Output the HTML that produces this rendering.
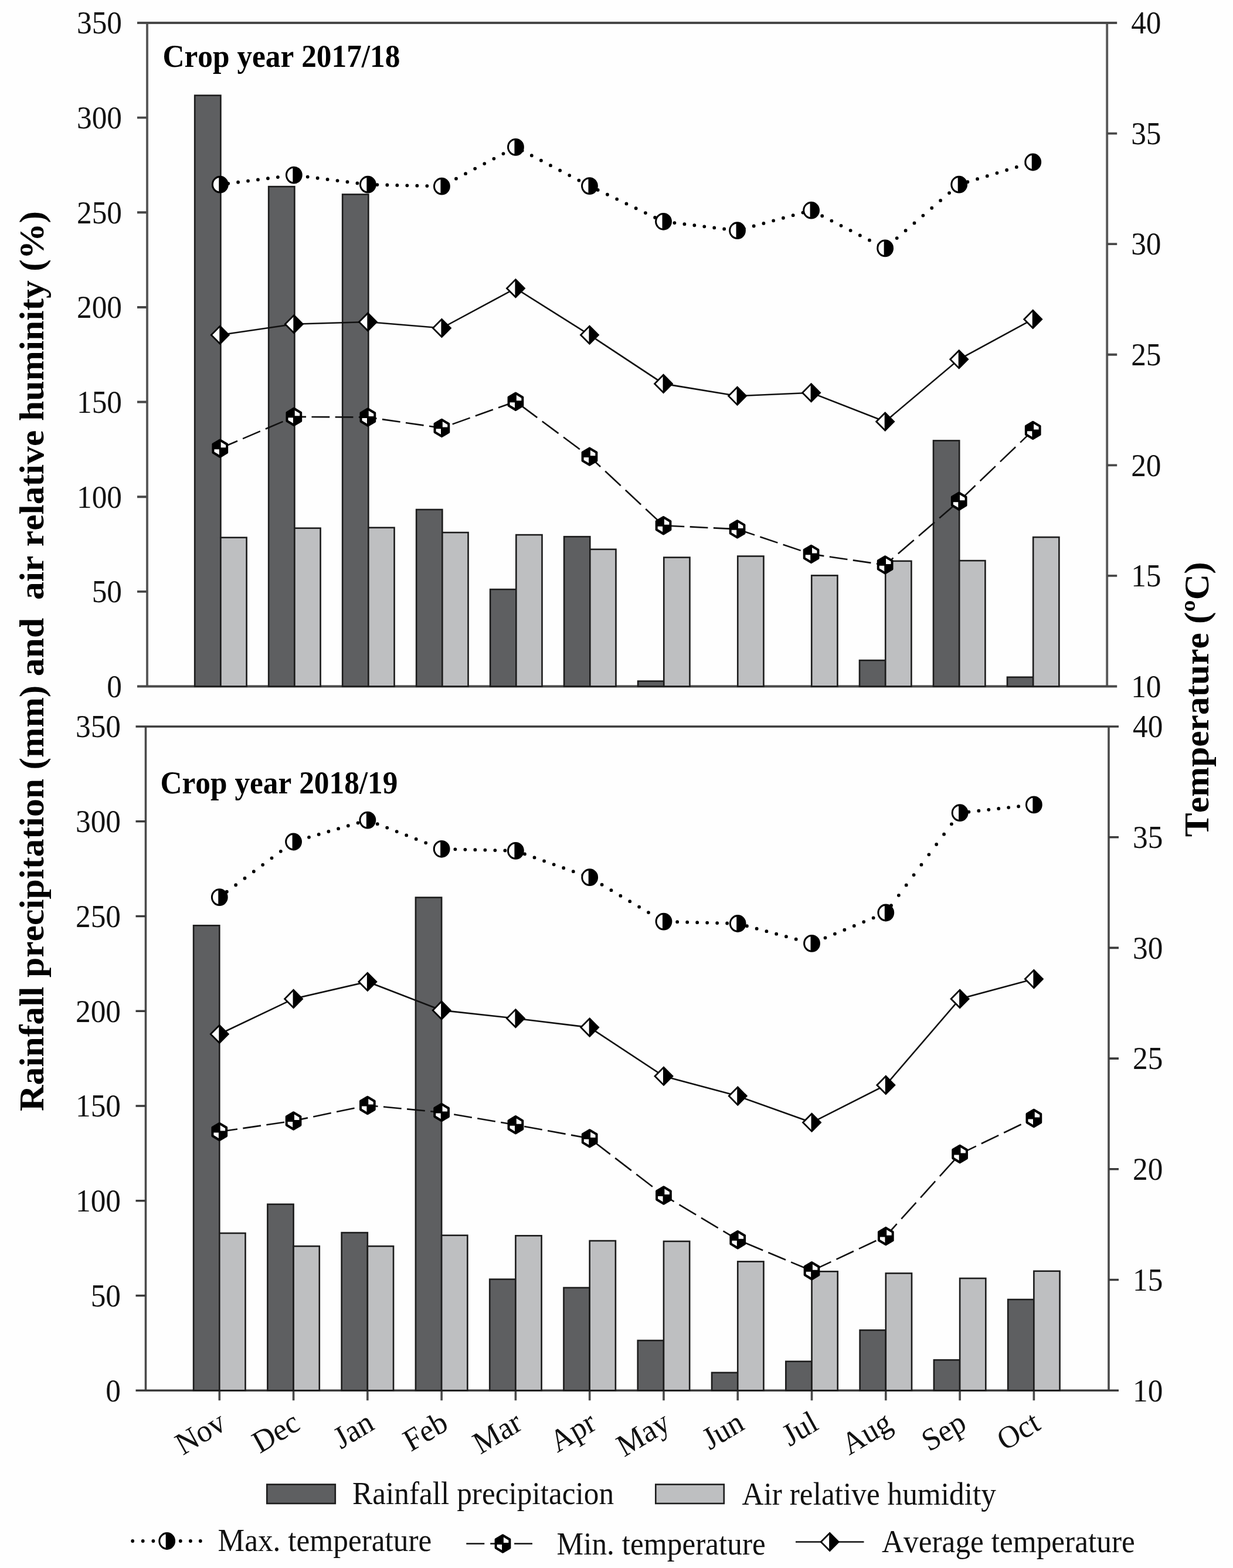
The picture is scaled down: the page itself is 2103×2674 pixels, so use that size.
<!DOCTYPE html>
<html lang="en"><head><meta charset="utf-8"><title>Rainfall, humidity and temperature by crop year</title>
<style>html,body{margin:0;padding:0;background:#fefefe}body{width:2103px;height:2674px;overflow:hidden}svg{display:block}text{font-kerning:none}</style></head>
<body>
<svg width="2103" height="2674" viewBox="0 0 2103 2674" font-family="'Liberation Serif', 'Times New Roman', serif">
<rect width="2103" height="2674" fill="#fefefe"/>
<path d="M251 39V1170.5M1888.2 39V1170.5" stroke="#585858" stroke-width="3.9" fill="none"/>
<path d="M234 39H1905.2M234 1170.5H1905.2M234 1008.86H251M234 847.21H251M234 685.57H251M234 523.93H251M234 362.29H251M234 200.64H251M1888.2 981.92H1905.2M1888.2 793.33H1905.2M1888.2 604.75H1905.2M1888.2 416.17H1905.2M1888.2 227.58H1905.2" stroke="#484848" stroke-width="3.9" fill="none"/>
<rect x="332.2" y="162.7" width="44.2" height="1007.8" fill="#5e5f61" stroke="#1c1c1c" stroke-width="2.6"/>
<rect x="376.4" y="916.7" width="44.2" height="253.8" fill="#bebfc1" stroke="#1c1c1c" stroke-width="2.6"/>
<rect x="458.18" y="318.2" width="44.2" height="852.3" fill="#5e5f61" stroke="#1c1c1c" stroke-width="2.6"/>
<rect x="502.38" y="900.7" width="44.2" height="269.8" fill="#bebfc1" stroke="#1c1c1c" stroke-width="2.6"/>
<rect x="584.16" y="331.5" width="44.2" height="839" fill="#5e5f61" stroke="#1c1c1c" stroke-width="2.6"/>
<rect x="628.36" y="899.8" width="44.2" height="270.7" fill="#bebfc1" stroke="#1c1c1c" stroke-width="2.6"/>
<rect x="710.14" y="869" width="44.2" height="301.5" fill="#5e5f61" stroke="#1c1c1c" stroke-width="2.6"/>
<rect x="754.34" y="908.1" width="44.2" height="262.4" fill="#bebfc1" stroke="#1c1c1c" stroke-width="2.6"/>
<rect x="836.12" y="1005.1" width="44.2" height="165.4" fill="#5e5f61" stroke="#1c1c1c" stroke-width="2.6"/>
<rect x="880.32" y="912.1" width="44.2" height="258.4" fill="#bebfc1" stroke="#1c1c1c" stroke-width="2.6"/>
<rect x="962.1" y="915.2" width="44.2" height="255.3" fill="#5e5f61" stroke="#1c1c1c" stroke-width="2.6"/>
<rect x="1006.3" y="936.8" width="44.2" height="233.7" fill="#bebfc1" stroke="#1c1c1c" stroke-width="2.6"/>
<rect x="1088.08" y="1161.6" width="44.2" height="8.9" fill="#5e5f61" stroke="#1c1c1c" stroke-width="2.6"/>
<rect x="1132.28" y="950.6" width="44.2" height="219.9" fill="#bebfc1" stroke="#1c1c1c" stroke-width="2.6"/>
<rect x="1258.26" y="948.5" width="44.2" height="222" fill="#bebfc1" stroke="#1c1c1c" stroke-width="2.6"/>
<rect x="1384.24" y="981.4" width="44.2" height="189.1" fill="#bebfc1" stroke="#1c1c1c" stroke-width="2.6"/>
<rect x="1466.02" y="1126.1" width="44.2" height="44.4" fill="#5e5f61" stroke="#1c1c1c" stroke-width="2.6"/>
<rect x="1510.22" y="956.8" width="44.2" height="213.7" fill="#bebfc1" stroke="#1c1c1c" stroke-width="2.6"/>
<rect x="1592" y="751.4" width="44.2" height="419.1" fill="#5e5f61" stroke="#1c1c1c" stroke-width="2.6"/>
<rect x="1636.2" y="956.1" width="44.2" height="214.4" fill="#bebfc1" stroke="#1c1c1c" stroke-width="2.6"/>
<rect x="1717.98" y="1154.8" width="44.2" height="15.7" fill="#5e5f61" stroke="#1c1c1c" stroke-width="2.6"/>
<rect x="1762.18" y="916.1" width="44.2" height="254.4" fill="#bebfc1" stroke="#1c1c1c" stroke-width="2.6"/>
<g font-size="51.35" fill="#111">
<text transform="translate(208 1188.8) scale(1 1.055)" text-anchor="end">0</text>
<text transform="translate(208 1027.16) scale(1 1.055)" text-anchor="end">50</text>
<text transform="translate(208 865.51) scale(1 1.055)" text-anchor="end">100</text>
<text transform="translate(208 703.87) scale(1 1.055)" text-anchor="end">150</text>
<text transform="translate(208 542.23) scale(1 1.055)" text-anchor="end">200</text>
<text transform="translate(208 380.59) scale(1 1.055)" text-anchor="end">250</text>
<text transform="translate(208 218.94) scale(1 1.055)" text-anchor="end">300</text>
<text transform="translate(208 57.3) scale(1 1.055)" text-anchor="end">350</text>
<text transform="translate(1929.2 1188.8) scale(1 1.055)">10</text>
<text transform="translate(1929.2 1000.22) scale(1 1.055)">15</text>
<text transform="translate(1929.2 811.63) scale(1 1.055)">20</text>
<text transform="translate(1929.2 623.05) scale(1 1.055)">25</text>
<text transform="translate(1929.2 434.47) scale(1 1.055)">30</text>
<text transform="translate(1929.2 245.88) scale(1 1.055)">35</text>
<text transform="translate(1929.2 57.3) scale(1 1.055)">40</text>
<text transform="translate(277.5 114) scale(1 1.055)" font-weight="bold" fill="#000">Crop year 2017/18</text>
</g>
<path d="M389.15 312.93h0.01M406.1 310.77h0.01M423.04 308.6h0.01M439.98 306.44h0.01M456.93 304.27h0.01M473.87 302.11h0.01M490.81 299.94h0.01M507.76 299.42h0.01M524.7 301.58h0.01M541.65 303.75h0.01M558.59 305.91h0.01M575.53 308.08h0.01M592.48 310.24h0.01M609.42 312.41h0.01M626.36 314.57h0.01M643.36 315.08h0.01M660.36 315.48h0.01M677.35 315.89h0.01M694.35 316.29h0.01M711.35 316.7h0.01M728.35 317.1h0.01M745.35 317.51h0.01M761.87 313.22h0.01M777.97 304.69h0.01M794.07 296.16h0.01M810.17 287.62h0.01M826.27 279.09h0.01M842.37 270.56h0.01M858.47 262.03h0.01M874.57 253.49h0.01M890.67 256.79h0.01M906.79 265.25h0.01M922.9 273.72h0.01M939.02 282.18h0.01M955.13 290.64h0.01M971.24 299.11h0.01M987.36 307.57h0.01M1003.47 316.03h0.01M1019.7 323.94h0.01M1035.95 331.76h0.01M1052.19 339.59h0.01M1068.44 347.41h0.01M1084.68 355.23h0.01M1100.93 363.06h0.01M1117.18 370.88h0.01M1133.5 378.04h0.01M1150.45 380.11h0.01M1167.4 382.18h0.01M1184.35 384.25h0.01M1201.3 386.32h0.01M1218.25 388.39h0.01M1235.19 390.46h0.01M1252.14 392.54h0.01M1268.95 390.09h0.01M1285.7 385.5h0.01M1302.44 380.92h0.01M1319.19 376.34h0.01M1335.93 371.75h0.01M1352.68 367.17h0.01M1369.42 362.59h0.01M1386.08 359.96h0.01M1402.23 368.25h0.01M1418.38 376.54h0.01M1434.53 384.83h0.01M1450.68 393.12h0.01M1466.83 401.41h0.01M1482.98 409.7h0.01M1499.13 418h0.01M1514.84 418.93h0.01M1529.72 406.1h0.01M1544.61 393.26h0.01M1559.49 380.42h0.01M1574.37 367.59h0.01M1589.26 354.75h0.01M1604.14 341.92h0.01M1619.02 329.08h0.01M1633.91 316.25h0.01M1650.38 310.25h0.01M1667.07 305.19h0.01M1683.76 300.13h0.01M1700.45 295.08h0.01M1717.14 290.02h0.01M1733.82 284.96h0.01M1750.51 279.9h0.01" fill="none" stroke="#000" stroke-width="5.8" stroke-linecap="round"/>
<path d="M375.3 764.7L405.01 752M414.07 748.12L443.78 735.41M452.85 731.54L482.56 718.83M491.62 714.96L501.34 710.8L522.06 710.92M531.46 710.97L562.26 711.14M571.66 711.19L602.46 711.36M611.86 711.41L627.38 711.5L642.6 713.72M651.96 715.09L682.62 719.56M691.98 720.93L722.65 725.41M732.01 726.77L753.42 729.9L762.48 726.65M771.64 723.37L801.66 712.6M810.82 709.31L840.84 698.55M850 695.26L879.46 684.7L879.98 685.09M888.47 691.41L916.27 712.12M924.75 718.44L952.55 739.16M961.04 745.48L988.84 766.19M997.33 772.51L1005.5 778.6L1024.17 796.02M1032.24 803.55L1058.68 828.22M1066.75 835.75L1093.2 860.43M1101.27 867.96L1127.71 892.63M1136.48 896.44L1167.26 897.96M1176.66 898.42L1207.44 899.93M1216.84 900.4L1247.62 901.91M1257.02 902.37L1257.58 902.4L1287.14 912.37M1296.33 915.47L1326.43 925.62M1335.62 928.72L1365.73 938.87M1374.92 941.97L1383.62 944.9L1405.42 948.1M1414.78 949.47L1445.45 953.97M1454.8 955.35L1485.47 959.85M1494.83 961.22L1509.66 963.4L1523.58 951.39M1531.81 944.29L1558.78 921.04M1567.01 913.94L1593.97 890.69M1602.2 883.59L1629.17 860.33M1637.35 853.12L1663.61 827.95M1671.62 820.27L1697.87 795.11M1705.89 787.43L1732.14 762.27M1740.15 754.59L1761.74 733.9" fill="none" stroke="#111" stroke-width="2.6"/>
<polyline points="375.3,571.2 501.34,552.7 627.38,549 753.42,559.5 879.46,491.7 1005.5,571.2 1131.54,654.4 1257.58,675.3 1383.62,669.7 1509.66,719 1635.7,612.8 1761.74,544.4" fill="none" stroke="#111" stroke-width="2.6"/>
<g transform="translate(375.3 314.7) scale(1 1.035)"><circle cx="0" cy="0" r="12.9" fill="#fff"/><path d="M-2 -12.74A12.9 12.9 0 1 1 -2 12.74Z" fill="#000"/><circle cx="0" cy="0" r="12.9" fill="none" stroke="#000" stroke-width="3"/></g>
<g transform="translate(501.34 298.6) scale(1 1.035)"><circle cx="0" cy="0" r="12.9" fill="#fff"/><path d="M-2 -12.74A12.9 12.9 0 1 1 -2 12.74Z" fill="#000"/><circle cx="0" cy="0" r="12.9" fill="none" stroke="#000" stroke-width="3"/></g>
<g transform="translate(627.38 314.7) scale(1 1.035)"><circle cx="0" cy="0" r="12.9" fill="#fff"/><path d="M-2 -12.74A12.9 12.9 0 1 1 -2 12.74Z" fill="#000"/><circle cx="0" cy="0" r="12.9" fill="none" stroke="#000" stroke-width="3"/></g>
<g transform="translate(753.42 317.7) scale(1 1.035)"><circle cx="0" cy="0" r="12.9" fill="#fff"/><path d="M-2 -12.74A12.9 12.9 0 1 1 -2 12.74Z" fill="#000"/><circle cx="0" cy="0" r="12.9" fill="none" stroke="#000" stroke-width="3"/></g>
<g transform="translate(879.46 250.9) scale(1 1.035)"><circle cx="0" cy="0" r="12.9" fill="#fff"/><path d="M-2 -12.74A12.9 12.9 0 1 1 -2 12.74Z" fill="#000"/><circle cx="0" cy="0" r="12.9" fill="none" stroke="#000" stroke-width="3"/></g>
<g transform="translate(1005.5 317.1) scale(1 1.035)"><circle cx="0" cy="0" r="12.9" fill="#fff"/><path d="M-2 -12.74A12.9 12.9 0 1 1 -2 12.74Z" fill="#000"/><circle cx="0" cy="0" r="12.9" fill="none" stroke="#000" stroke-width="3"/></g>
<g transform="translate(1131.54 377.8) scale(1 1.035)"><circle cx="0" cy="0" r="12.9" fill="#fff"/><path d="M-2 -12.74A12.9 12.9 0 1 1 -2 12.74Z" fill="#000"/><circle cx="0" cy="0" r="12.9" fill="none" stroke="#000" stroke-width="3"/></g>
<g transform="translate(1257.58 393.2) scale(1 1.035)"><circle cx="0" cy="0" r="12.9" fill="#fff"/><path d="M-2 -12.74A12.9 12.9 0 1 1 -2 12.74Z" fill="#000"/><circle cx="0" cy="0" r="12.9" fill="none" stroke="#000" stroke-width="3"/></g>
<g transform="translate(1383.62 358.7) scale(1 1.035)"><circle cx="0" cy="0" r="12.9" fill="#fff"/><path d="M-2 -12.74A12.9 12.9 0 1 1 -2 12.74Z" fill="#000"/><circle cx="0" cy="0" r="12.9" fill="none" stroke="#000" stroke-width="3"/></g>
<g transform="translate(1509.66 423.4) scale(1 1.035)"><circle cx="0" cy="0" r="12.9" fill="#fff"/><path d="M-2 -12.74A12.9 12.9 0 1 1 -2 12.74Z" fill="#000"/><circle cx="0" cy="0" r="12.9" fill="none" stroke="#000" stroke-width="3"/></g>
<g transform="translate(1635.7 314.7) scale(1 1.035)"><circle cx="0" cy="0" r="12.9" fill="#fff"/><path d="M-2 -12.74A12.9 12.9 0 1 1 -2 12.74Z" fill="#000"/><circle cx="0" cy="0" r="12.9" fill="none" stroke="#000" stroke-width="3"/></g>
<g transform="translate(1761.74 276.5) scale(1 1.035)"><circle cx="0" cy="0" r="12.9" fill="#fff"/><path d="M-2 -12.74A12.9 12.9 0 1 1 -2 12.74Z" fill="#000"/><circle cx="0" cy="0" r="12.9" fill="none" stroke="#000" stroke-width="3"/></g>
<g transform="translate(375.3 764.7) scale(1 1.035)"><path d="M0 -13.7L11.86 -6.85L11.86 6.85L0 13.7L-11.86 6.85L-11.86 -6.85Z" fill="#fff"/><path d="M0 0L0 -13.7L-11.86 -6.85L-11.86 0Z" fill="#000"/><path d="M0 0L0 13.7L11.86 6.85L11.86 0Z" fill="#000"/><path d="M-11.86 0H11.86M0 -13.7V13.7" stroke="#000" stroke-width="2.8" fill="none"/><path d="M0 -13.7L11.86 -6.85L11.86 6.85L0 13.7L-11.86 6.85L-11.86 -6.85Z" fill="none" stroke="#000" stroke-width="4" stroke-linejoin="round"/></g>
<g transform="translate(501.34 710.8) scale(1 1.035)"><path d="M0 -13.7L11.86 -6.85L11.86 6.85L0 13.7L-11.86 6.85L-11.86 -6.85Z" fill="#fff"/><path d="M0 0L0 -13.7L-11.86 -6.85L-11.86 0Z" fill="#000"/><path d="M0 0L0 13.7L11.86 6.85L11.86 0Z" fill="#000"/><path d="M-11.86 0H11.86M0 -13.7V13.7" stroke="#000" stroke-width="2.8" fill="none"/><path d="M0 -13.7L11.86 -6.85L11.86 6.85L0 13.7L-11.86 6.85L-11.86 -6.85Z" fill="none" stroke="#000" stroke-width="4" stroke-linejoin="round"/></g>
<g transform="translate(627.38 711.5) scale(1 1.035)"><path d="M0 -13.7L11.86 -6.85L11.86 6.85L0 13.7L-11.86 6.85L-11.86 -6.85Z" fill="#fff"/><path d="M0 0L0 -13.7L-11.86 -6.85L-11.86 0Z" fill="#000"/><path d="M0 0L0 13.7L11.86 6.85L11.86 0Z" fill="#000"/><path d="M-11.86 0H11.86M0 -13.7V13.7" stroke="#000" stroke-width="2.8" fill="none"/><path d="M0 -13.7L11.86 -6.85L11.86 6.85L0 13.7L-11.86 6.85L-11.86 -6.85Z" fill="none" stroke="#000" stroke-width="4" stroke-linejoin="round"/></g>
<g transform="translate(753.42 729.9) scale(1 1.035)"><path d="M0 -13.7L11.86 -6.85L11.86 6.85L0 13.7L-11.86 6.85L-11.86 -6.85Z" fill="#fff"/><path d="M0 0L0 -13.7L-11.86 -6.85L-11.86 0Z" fill="#000"/><path d="M0 0L0 13.7L11.86 6.85L11.86 0Z" fill="#000"/><path d="M-11.86 0H11.86M0 -13.7V13.7" stroke="#000" stroke-width="2.8" fill="none"/><path d="M0 -13.7L11.86 -6.85L11.86 6.85L0 13.7L-11.86 6.85L-11.86 -6.85Z" fill="none" stroke="#000" stroke-width="4" stroke-linejoin="round"/></g>
<g transform="translate(879.46 684.7) scale(1 1.035)"><path d="M0 -13.7L11.86 -6.85L11.86 6.85L0 13.7L-11.86 6.85L-11.86 -6.85Z" fill="#fff"/><path d="M0 0L0 -13.7L-11.86 -6.85L-11.86 0Z" fill="#000"/><path d="M0 0L0 13.7L11.86 6.85L11.86 0Z" fill="#000"/><path d="M-11.86 0H11.86M0 -13.7V13.7" stroke="#000" stroke-width="2.8" fill="none"/><path d="M0 -13.7L11.86 -6.85L11.86 6.85L0 13.7L-11.86 6.85L-11.86 -6.85Z" fill="none" stroke="#000" stroke-width="4" stroke-linejoin="round"/></g>
<g transform="translate(1005.5 778.6) scale(1 1.035)"><path d="M0 -13.7L11.86 -6.85L11.86 6.85L0 13.7L-11.86 6.85L-11.86 -6.85Z" fill="#fff"/><path d="M0 0L0 -13.7L-11.86 -6.85L-11.86 0Z" fill="#000"/><path d="M0 0L0 13.7L11.86 6.85L11.86 0Z" fill="#000"/><path d="M-11.86 0H11.86M0 -13.7V13.7" stroke="#000" stroke-width="2.8" fill="none"/><path d="M0 -13.7L11.86 -6.85L11.86 6.85L0 13.7L-11.86 6.85L-11.86 -6.85Z" fill="none" stroke="#000" stroke-width="4" stroke-linejoin="round"/></g>
<g transform="translate(1131.54 896.2) scale(1 1.035)"><path d="M0 -13.7L11.86 -6.85L11.86 6.85L0 13.7L-11.86 6.85L-11.86 -6.85Z" fill="#fff"/><path d="M0 0L0 -13.7L-11.86 -6.85L-11.86 0Z" fill="#000"/><path d="M0 0L0 13.7L11.86 6.85L11.86 0Z" fill="#000"/><path d="M-11.86 0H11.86M0 -13.7V13.7" stroke="#000" stroke-width="2.8" fill="none"/><path d="M0 -13.7L11.86 -6.85L11.86 6.85L0 13.7L-11.86 6.85L-11.86 -6.85Z" fill="none" stroke="#000" stroke-width="4" stroke-linejoin="round"/></g>
<g transform="translate(1257.58 902.4) scale(1 1.035)"><path d="M0 -13.7L11.86 -6.85L11.86 6.85L0 13.7L-11.86 6.85L-11.86 -6.85Z" fill="#fff"/><path d="M0 0L0 -13.7L-11.86 -6.85L-11.86 0Z" fill="#000"/><path d="M0 0L0 13.7L11.86 6.85L11.86 0Z" fill="#000"/><path d="M-11.86 0H11.86M0 -13.7V13.7" stroke="#000" stroke-width="2.8" fill="none"/><path d="M0 -13.7L11.86 -6.85L11.86 6.85L0 13.7L-11.86 6.85L-11.86 -6.85Z" fill="none" stroke="#000" stroke-width="4" stroke-linejoin="round"/></g>
<g transform="translate(1383.62 944.9) scale(1 1.035)"><path d="M0 -13.7L11.86 -6.85L11.86 6.85L0 13.7L-11.86 6.85L-11.86 -6.85Z" fill="#fff"/><path d="M0 0L0 -13.7L-11.86 -6.85L-11.86 0Z" fill="#000"/><path d="M0 0L0 13.7L11.86 6.85L11.86 0Z" fill="#000"/><path d="M-11.86 0H11.86M0 -13.7V13.7" stroke="#000" stroke-width="2.8" fill="none"/><path d="M0 -13.7L11.86 -6.85L11.86 6.85L0 13.7L-11.86 6.85L-11.86 -6.85Z" fill="none" stroke="#000" stroke-width="4" stroke-linejoin="round"/></g>
<g transform="translate(1509.66 963.4) scale(1 1.035)"><path d="M0 -13.7L11.86 -6.85L11.86 6.85L0 13.7L-11.86 6.85L-11.86 -6.85Z" fill="#fff"/><path d="M0 0L0 -13.7L-11.86 -6.85L-11.86 0Z" fill="#000"/><path d="M0 0L0 13.7L11.86 6.85L11.86 0Z" fill="#000"/><path d="M-11.86 0H11.86M0 -13.7V13.7" stroke="#000" stroke-width="2.8" fill="none"/><path d="M0 -13.7L11.86 -6.85L11.86 6.85L0 13.7L-11.86 6.85L-11.86 -6.85Z" fill="none" stroke="#000" stroke-width="4" stroke-linejoin="round"/></g>
<g transform="translate(1635.7 854.7) scale(1 1.035)"><path d="M0 -13.7L11.86 -6.85L11.86 6.85L0 13.7L-11.86 6.85L-11.86 -6.85Z" fill="#fff"/><path d="M0 0L0 -13.7L-11.86 -6.85L-11.86 0Z" fill="#000"/><path d="M0 0L0 13.7L11.86 6.85L11.86 0Z" fill="#000"/><path d="M-11.86 0H11.86M0 -13.7V13.7" stroke="#000" stroke-width="2.8" fill="none"/><path d="M0 -13.7L11.86 -6.85L11.86 6.85L0 13.7L-11.86 6.85L-11.86 -6.85Z" fill="none" stroke="#000" stroke-width="4" stroke-linejoin="round"/></g>
<g transform="translate(1761.74 733.9) scale(1 1.035)"><path d="M0 -13.7L11.86 -6.85L11.86 6.85L0 13.7L-11.86 6.85L-11.86 -6.85Z" fill="#fff"/><path d="M0 0L0 -13.7L-11.86 -6.85L-11.86 0Z" fill="#000"/><path d="M0 0L0 13.7L11.86 6.85L11.86 0Z" fill="#000"/><path d="M-11.86 0H11.86M0 -13.7V13.7" stroke="#000" stroke-width="2.8" fill="none"/><path d="M0 -13.7L11.86 -6.85L11.86 6.85L0 13.7L-11.86 6.85L-11.86 -6.85Z" fill="none" stroke="#000" stroke-width="4" stroke-linejoin="round"/></g>
<g transform="translate(375.3 571.2) scale(1 1.035)"><path d="M-15 0L0 -14.6L15 0L0 14.6Z" fill="#fff"/><path d="M-1 -14.6L0 -14.6L15 0L0 14.6L-1 14.6Z" fill="#000"/><path d="M-15 0L0 -14.6L15 0L0 14.6Z" fill="none" stroke="#000" stroke-width="2.7" stroke-linejoin="miter"/></g>
<g transform="translate(501.34 552.7) scale(1 1.035)"><path d="M-15 0L0 -14.6L15 0L0 14.6Z" fill="#fff"/><path d="M-1 -14.6L0 -14.6L15 0L0 14.6L-1 14.6Z" fill="#000"/><path d="M-15 0L0 -14.6L15 0L0 14.6Z" fill="none" stroke="#000" stroke-width="2.7" stroke-linejoin="miter"/></g>
<g transform="translate(627.38 549) scale(1 1.035)"><path d="M-15 0L0 -14.6L15 0L0 14.6Z" fill="#fff"/><path d="M-1 -14.6L0 -14.6L15 0L0 14.6L-1 14.6Z" fill="#000"/><path d="M-15 0L0 -14.6L15 0L0 14.6Z" fill="none" stroke="#000" stroke-width="2.7" stroke-linejoin="miter"/></g>
<g transform="translate(753.42 559.5) scale(1 1.035)"><path d="M-15 0L0 -14.6L15 0L0 14.6Z" fill="#fff"/><path d="M-1 -14.6L0 -14.6L15 0L0 14.6L-1 14.6Z" fill="#000"/><path d="M-15 0L0 -14.6L15 0L0 14.6Z" fill="none" stroke="#000" stroke-width="2.7" stroke-linejoin="miter"/></g>
<g transform="translate(879.46 491.7) scale(1 1.035)"><path d="M-15 0L0 -14.6L15 0L0 14.6Z" fill="#fff"/><path d="M-1 -14.6L0 -14.6L15 0L0 14.6L-1 14.6Z" fill="#000"/><path d="M-15 0L0 -14.6L15 0L0 14.6Z" fill="none" stroke="#000" stroke-width="2.7" stroke-linejoin="miter"/></g>
<g transform="translate(1005.5 571.2) scale(1 1.035)"><path d="M-15 0L0 -14.6L15 0L0 14.6Z" fill="#fff"/><path d="M-1 -14.6L0 -14.6L15 0L0 14.6L-1 14.6Z" fill="#000"/><path d="M-15 0L0 -14.6L15 0L0 14.6Z" fill="none" stroke="#000" stroke-width="2.7" stroke-linejoin="miter"/></g>
<g transform="translate(1131.54 654.4) scale(1 1.035)"><path d="M-15 0L0 -14.6L15 0L0 14.6Z" fill="#fff"/><path d="M-1 -14.6L0 -14.6L15 0L0 14.6L-1 14.6Z" fill="#000"/><path d="M-15 0L0 -14.6L15 0L0 14.6Z" fill="none" stroke="#000" stroke-width="2.7" stroke-linejoin="miter"/></g>
<g transform="translate(1257.58 675.3) scale(1 1.035)"><path d="M-15 0L0 -14.6L15 0L0 14.6Z" fill="#fff"/><path d="M-1 -14.6L0 -14.6L15 0L0 14.6L-1 14.6Z" fill="#000"/><path d="M-15 0L0 -14.6L15 0L0 14.6Z" fill="none" stroke="#000" stroke-width="2.7" stroke-linejoin="miter"/></g>
<g transform="translate(1383.62 669.7) scale(1 1.035)"><path d="M-15 0L0 -14.6L15 0L0 14.6Z" fill="#fff"/><path d="M-1 -14.6L0 -14.6L15 0L0 14.6L-1 14.6Z" fill="#000"/><path d="M-15 0L0 -14.6L15 0L0 14.6Z" fill="none" stroke="#000" stroke-width="2.7" stroke-linejoin="miter"/></g>
<g transform="translate(1509.66 719) scale(1 1.035)"><path d="M-15 0L0 -14.6L15 0L0 14.6Z" fill="#fff"/><path d="M-1 -14.6L0 -14.6L15 0L0 14.6L-1 14.6Z" fill="#000"/><path d="M-15 0L0 -14.6L15 0L0 14.6Z" fill="none" stroke="#000" stroke-width="2.7" stroke-linejoin="miter"/></g>
<g transform="translate(1635.7 612.8) scale(1 1.035)"><path d="M-15 0L0 -14.6L15 0L0 14.6Z" fill="#fff"/><path d="M-1 -14.6L0 -14.6L15 0L0 14.6L-1 14.6Z" fill="#000"/><path d="M-15 0L0 -14.6L15 0L0 14.6Z" fill="none" stroke="#000" stroke-width="2.7" stroke-linejoin="miter"/></g>
<g transform="translate(1761.74 544.4) scale(1 1.035)"><path d="M-15 0L0 -14.6L15 0L0 14.6Z" fill="#fff"/><path d="M-1 -14.6L0 -14.6L15 0L0 14.6L-1 14.6Z" fill="#000"/><path d="M-15 0L0 -14.6L15 0L0 14.6Z" fill="none" stroke="#000" stroke-width="2.7" stroke-linejoin="miter"/></g>
<path d="M248.5 1239V2371.2M1891 1239V2371.2" stroke="#4a4a4a" stroke-width="3.6" fill="none"/>
<path d="M231.5 1239H1908M231.5 2371.2H1908M231.5 2209.46H248.5M231.5 2047.71H248.5M231.5 1885.97H248.5M231.5 1724.23H248.5M231.5 1562.49H248.5M231.5 1400.74H248.5M1891 2182.5H1908M1891 1993.8H1908M1891 1805.1H1908M1891 1616.4H1908M1891 1427.7H1908" stroke="#3a3a3a" stroke-width="3.6" fill="none"/>
<path d="M374.3 2371.2V2388.2M500.58 2371.2V2388.2M626.86 2371.2V2388.2M753.14 2371.2V2388.2M879.42 2371.2V2388.2M1005.7 2371.2V2388.2M1131.98 2371.2V2388.2M1258.26 2371.2V2388.2M1384.54 2371.2V2388.2M1510.82 2371.2V2388.2M1637.1 2371.2V2388.2M1763.38 2371.2V2388.2" stroke="#4a4a4a" stroke-width="3.6" fill="none"/>
<rect x="330.1" y="1578.3" width="44.2" height="792.9" fill="#5e5f61" stroke="#1c1c1c" stroke-width="2.6"/>
<rect x="374.3" y="2103" width="44.2" height="268.2" fill="#bebfc1" stroke="#1c1c1c" stroke-width="2.6"/>
<rect x="456.38" y="2053.7" width="44.2" height="317.5" fill="#5e5f61" stroke="#1c1c1c" stroke-width="2.6"/>
<rect x="500.58" y="2125.2" width="44.2" height="246" fill="#bebfc1" stroke="#1c1c1c" stroke-width="2.6"/>
<rect x="582.66" y="2102.1" width="44.2" height="269.1" fill="#5e5f61" stroke="#1c1c1c" stroke-width="2.6"/>
<rect x="626.86" y="2125.2" width="44.2" height="246" fill="#bebfc1" stroke="#1c1c1c" stroke-width="2.6"/>
<rect x="708.94" y="1530.5" width="44.2" height="840.7" fill="#5e5f61" stroke="#1c1c1c" stroke-width="2.6"/>
<rect x="753.14" y="2106.7" width="44.2" height="264.5" fill="#bebfc1" stroke="#1c1c1c" stroke-width="2.6"/>
<rect x="835.22" y="2181.6" width="44.2" height="189.6" fill="#5e5f61" stroke="#1c1c1c" stroke-width="2.6"/>
<rect x="879.42" y="2107.3" width="44.2" height="263.9" fill="#bebfc1" stroke="#1c1c1c" stroke-width="2.6"/>
<rect x="961.5" y="2196" width="44.2" height="175.2" fill="#5e5f61" stroke="#1c1c1c" stroke-width="2.6"/>
<rect x="1005.7" y="2116" width="44.2" height="255.2" fill="#bebfc1" stroke="#1c1c1c" stroke-width="2.6"/>
<rect x="1087.78" y="2286" width="44.2" height="85.2" fill="#5e5f61" stroke="#1c1c1c" stroke-width="2.6"/>
<rect x="1131.98" y="2116.9" width="44.2" height="254.3" fill="#bebfc1" stroke="#1c1c1c" stroke-width="2.6"/>
<rect x="1214.06" y="2340.8" width="44.2" height="30.4" fill="#5e5f61" stroke="#1c1c1c" stroke-width="2.6"/>
<rect x="1258.26" y="2151.4" width="44.2" height="219.8" fill="#bebfc1" stroke="#1c1c1c" stroke-width="2.6"/>
<rect x="1340.34" y="2321.7" width="44.2" height="49.5" fill="#5e5f61" stroke="#1c1c1c" stroke-width="2.6"/>
<rect x="1384.54" y="2168.3" width="44.2" height="202.9" fill="#bebfc1" stroke="#1c1c1c" stroke-width="2.6"/>
<rect x="1466.62" y="2268.4" width="44.2" height="102.8" fill="#5e5f61" stroke="#1c1c1c" stroke-width="2.6"/>
<rect x="1510.82" y="2171.4" width="44.2" height="199.8" fill="#bebfc1" stroke="#1c1c1c" stroke-width="2.6"/>
<rect x="1592.9" y="2319.2" width="44.2" height="52" fill="#5e5f61" stroke="#1c1c1c" stroke-width="2.6"/>
<rect x="1637.1" y="2180" width="44.2" height="191.2" fill="#bebfc1" stroke="#1c1c1c" stroke-width="2.6"/>
<rect x="1719.18" y="2216.1" width="44.2" height="155.1" fill="#5e5f61" stroke="#1c1c1c" stroke-width="2.6"/>
<rect x="1763.38" y="2167.7" width="44.2" height="203.5" fill="#bebfc1" stroke="#1c1c1c" stroke-width="2.6"/>
<g font-size="51.35" fill="#111">
<text transform="translate(206 2389.5) scale(1 1.055)" text-anchor="end">0</text>
<text transform="translate(206 2227.76) scale(1 1.055)" text-anchor="end">50</text>
<text transform="translate(206 2066.01) scale(1 1.055)" text-anchor="end">100</text>
<text transform="translate(206 1904.27) scale(1 1.055)" text-anchor="end">150</text>
<text transform="translate(206 1742.53) scale(1 1.055)" text-anchor="end">200</text>
<text transform="translate(206 1580.79) scale(1 1.055)" text-anchor="end">250</text>
<text transform="translate(206 1419.04) scale(1 1.055)" text-anchor="end">300</text>
<text transform="translate(206 1257.3) scale(1 1.055)" text-anchor="end">350</text>
<text transform="translate(1932 2389.5) scale(1 1.055)">10</text>
<text transform="translate(1932 2200.8) scale(1 1.055)">15</text>
<text transform="translate(1932 2012.1) scale(1 1.055)">20</text>
<text transform="translate(1932 1823.4) scale(1 1.055)">25</text>
<text transform="translate(1932 1634.7) scale(1 1.055)">30</text>
<text transform="translate(1932 1446) scale(1 1.055)">35</text>
<text transform="translate(1932 1257.3) scale(1 1.055)">40</text>
<text transform="translate(273.5 1352.5) scale(1 1.055)" font-weight="bold" fill="#000">Crop year 2018/19</text>
</g>
<path d="M386.83 1520.71h0.01M402.16 1509.23h0.01M417.49 1497.74h0.01M432.82 1486.26h0.01M448.15 1474.78h0.01M463.48 1463.29h0.01M478.81 1451.81h0.01M494.14 1440.33h0.01M510.27 1432.67h0.01M526.98 1427.79h0.01M543.69 1422.9h0.01M560.4 1418.02h0.01M577.11 1413.14h0.01M593.82 1408.25h0.01M610.53 1403.37h0.01M627.24 1398.75h0.01M643.73 1405.17h0.01M660.23 1411.6h0.01M676.72 1418.03h0.01M693.22 1424.45h0.01M709.71 1430.88h0.01M726.21 1437.31h0.01M742.7 1443.73h0.01M759.38 1447.95h0.01M776.38 1448.37h0.01M793.38 1448.79h0.01M810.37 1449.21h0.01M827.37 1449.62h0.01M844.37 1450.04h0.01M861.37 1450.46h0.01M878.37 1450.87h0.01M894.96 1456.47h0.01M911.53 1462.42h0.01M928.1 1468.36h0.01M944.67 1474.31h0.01M961.24 1480.25h0.01M977.81 1486.19h0.01M994.37 1492.14h0.01M1010.73 1499.2h0.01M1026.61 1508.68h0.01M1042.49 1518.16h0.01M1058.37 1527.65h0.01M1074.25 1537.13h0.01M1090.13 1546.61h0.01M1106.01 1556.09h0.01M1121.89 1565.57h0.01M1138.17 1571.77h0.01M1155.17 1572.22h0.01M1172.17 1572.68h0.01M1189.17 1573.14h0.01M1206.16 1573.6h0.01M1223.16 1574.05h0.01M1240.16 1574.51h0.01M1257.15 1574.97h0.01M1273.93 1579.21h0.01M1290.68 1583.7h0.01M1307.43 1588.2h0.01M1324.19 1592.7h0.01M1340.94 1597.2h0.01M1357.7 1601.69h0.01M1374.45 1606.19h0.01M1391.08 1606.19h0.01M1407.51 1599.37h0.01M1423.94 1592.55h0.01M1440.37 1585.73h0.01M1456.8 1578.92h0.01M1473.23 1572.1h0.01M1489.66 1565.28h0.01M1506.09 1558.46h0.01M1519.99 1544.14h0.01M1532.85 1526.78h0.01M1545.72 1509.43h0.01M1558.59 1492.07h0.01M1571.46 1474.72h0.01M1584.33 1457.36h0.01M1597.2 1440.01h0.01M1610.07 1422.65h0.01M1622.94 1405.29h0.01M1635.81 1387.94h0.01M1652.36 1384.53h0.01M1669.32 1382.68h0.01M1686.28 1380.83h0.01M1703.23 1378.97h0.01M1720.19 1377.12h0.01M1737.15 1375.27h0.01M1754.11 1373.41h0.01" fill="none" stroke="#000" stroke-width="5.8" stroke-linecap="round"/>
<path d="M374.3 1930L404.97 1925.51M414.32 1924.14L444.99 1919.64M454.35 1918.27L485.01 1913.78M494.37 1912.41L500.58 1911.5L524.93 1906.39M534.24 1904.44L564.77 1898.03M574.09 1896.07L604.61 1889.67M613.93 1887.71L626.86 1885L644.58 1886.68M653.96 1887.58L684.71 1890.5M694.09 1891.39L724.83 1894.31M734.21 1895.2L753.14 1897L764.91 1898.99M774.26 1900.56L804.88 1905.73M814.22 1907.3L844.85 1912.47M854.19 1914.04L879.42 1918.3L884.81 1919.29M894.14 1920.99L924.74 1926.59M934.07 1928.3L964.66 1933.89M974 1935.6L1004.59 1941.2M1013.13 1947.11L1040.77 1968.36M1049.2 1974.85L1076.84 1996.1M1085.27 2002.58L1112.9 2023.83M1121.34 2030.32L1131.98 2038.5L1149.66 2049.1M1158.44 2054.36L1187.2 2071.6M1195.97 2076.86L1224.73 2094.1M1233.5 2099.36L1258.26 2114.2L1262.4 2115.94M1271.48 2119.75L1301.22 2132.23M1310.3 2136.04L1340.05 2148.53M1349.12 2152.34L1378.87 2164.82M1387.92 2165.62L1417.43 2151.81M1426.43 2147.59L1455.94 2133.79M1464.94 2129.57L1494.44 2115.76M1503.45 2111.55L1510.82 2108.1L1529.66 2087.2M1537.32 2078.69L1562.44 2050.83M1570.1 2042.33L1595.22 2014.47M1602.88 2005.97L1627.99 1978.1M1635.66 1969.6L1637.1 1968L1664.84 1954.6M1673.82 1950.26L1703.24 1936.05M1712.22 1931.71L1741.65 1917.5M1750.63 1913.16L1763.38 1907" fill="none" stroke="#111" stroke-width="2.6"/>
<polyline points="374.3,1763.5 500.58,1703.4 626.86,1674.2 753.14,1722.9 879.42,1736.7 1005.7,1752.1 1131.98,1835.3 1258.26,1869.1 1384.54,1914.3 1510.82,1850.4 1637.1,1703.4 1763.38,1669.6" fill="none" stroke="#111" stroke-width="2.6"/>
<g transform="translate(374.3 1530.1) scale(1 1.035)"><circle cx="0" cy="0" r="12.9" fill="#fff"/><path d="M-2 -12.74A12.9 12.9 0 1 1 -2 12.74Z" fill="#000"/><circle cx="0" cy="0" r="12.9" fill="none" stroke="#000" stroke-width="3"/></g>
<g transform="translate(500.58 1435.5) scale(1 1.035)"><circle cx="0" cy="0" r="12.9" fill="#fff"/><path d="M-2 -12.74A12.9 12.9 0 1 1 -2 12.74Z" fill="#000"/><circle cx="0" cy="0" r="12.9" fill="none" stroke="#000" stroke-width="3"/></g>
<g transform="translate(626.86 1398.6) scale(1 1.035)"><circle cx="0" cy="0" r="12.9" fill="#fff"/><path d="M-2 -12.74A12.9 12.9 0 1 1 -2 12.74Z" fill="#000"/><circle cx="0" cy="0" r="12.9" fill="none" stroke="#000" stroke-width="3"/></g>
<g transform="translate(753.14 1447.8) scale(1 1.035)"><circle cx="0" cy="0" r="12.9" fill="#fff"/><path d="M-2 -12.74A12.9 12.9 0 1 1 -2 12.74Z" fill="#000"/><circle cx="0" cy="0" r="12.9" fill="none" stroke="#000" stroke-width="3"/></g>
<g transform="translate(879.42 1450.9) scale(1 1.035)"><circle cx="0" cy="0" r="12.9" fill="#fff"/><path d="M-2 -12.74A12.9 12.9 0 1 1 -2 12.74Z" fill="#000"/><circle cx="0" cy="0" r="12.9" fill="none" stroke="#000" stroke-width="3"/></g>
<g transform="translate(1005.7 1496.2) scale(1 1.035)"><circle cx="0" cy="0" r="12.9" fill="#fff"/><path d="M-2 -12.74A12.9 12.9 0 1 1 -2 12.74Z" fill="#000"/><circle cx="0" cy="0" r="12.9" fill="none" stroke="#000" stroke-width="3"/></g>
<g transform="translate(1131.98 1571.6) scale(1 1.035)"><circle cx="0" cy="0" r="12.9" fill="#fff"/><path d="M-2 -12.74A12.9 12.9 0 1 1 -2 12.74Z" fill="#000"/><circle cx="0" cy="0" r="12.9" fill="none" stroke="#000" stroke-width="3"/></g>
<g transform="translate(1258.26 1575) scale(1 1.035)"><circle cx="0" cy="0" r="12.9" fill="#fff"/><path d="M-2 -12.74A12.9 12.9 0 1 1 -2 12.74Z" fill="#000"/><circle cx="0" cy="0" r="12.9" fill="none" stroke="#000" stroke-width="3"/></g>
<g transform="translate(1384.54 1608.9) scale(1 1.035)"><circle cx="0" cy="0" r="12.9" fill="#fff"/><path d="M-2 -12.74A12.9 12.9 0 1 1 -2 12.74Z" fill="#000"/><circle cx="0" cy="0" r="12.9" fill="none" stroke="#000" stroke-width="3"/></g>
<g transform="translate(1510.82 1556.5) scale(1 1.035)"><circle cx="0" cy="0" r="12.9" fill="#fff"/><path d="M-2 -12.74A12.9 12.9 0 1 1 -2 12.74Z" fill="#000"/><circle cx="0" cy="0" r="12.9" fill="none" stroke="#000" stroke-width="3"/></g>
<g transform="translate(1637.1 1386.2) scale(1 1.035)"><circle cx="0" cy="0" r="12.9" fill="#fff"/><path d="M-2 -12.74A12.9 12.9 0 1 1 -2 12.74Z" fill="#000"/><circle cx="0" cy="0" r="12.9" fill="none" stroke="#000" stroke-width="3"/></g>
<g transform="translate(1763.38 1372.4) scale(1 1.035)"><circle cx="0" cy="0" r="12.9" fill="#fff"/><path d="M-2 -12.74A12.9 12.9 0 1 1 -2 12.74Z" fill="#000"/><circle cx="0" cy="0" r="12.9" fill="none" stroke="#000" stroke-width="3"/></g>
<g transform="translate(374.3 1930) scale(1 1.035)"><path d="M0 -13.7L11.86 -6.85L11.86 6.85L0 13.7L-11.86 6.85L-11.86 -6.85Z" fill="#fff"/><path d="M0 0L0 -13.7L-11.86 -6.85L-11.86 0Z" fill="#000"/><path d="M0 0L0 13.7L11.86 6.85L11.86 0Z" fill="#000"/><path d="M-11.86 0H11.86M0 -13.7V13.7" stroke="#000" stroke-width="2.8" fill="none"/><path d="M0 -13.7L11.86 -6.85L11.86 6.85L0 13.7L-11.86 6.85L-11.86 -6.85Z" fill="none" stroke="#000" stroke-width="4" stroke-linejoin="round"/></g>
<g transform="translate(500.58 1911.5) scale(1 1.035)"><path d="M0 -13.7L11.86 -6.85L11.86 6.85L0 13.7L-11.86 6.85L-11.86 -6.85Z" fill="#fff"/><path d="M0 0L0 -13.7L-11.86 -6.85L-11.86 0Z" fill="#000"/><path d="M0 0L0 13.7L11.86 6.85L11.86 0Z" fill="#000"/><path d="M-11.86 0H11.86M0 -13.7V13.7" stroke="#000" stroke-width="2.8" fill="none"/><path d="M0 -13.7L11.86 -6.85L11.86 6.85L0 13.7L-11.86 6.85L-11.86 -6.85Z" fill="none" stroke="#000" stroke-width="4" stroke-linejoin="round"/></g>
<g transform="translate(626.86 1885) scale(1 1.035)"><path d="M0 -13.7L11.86 -6.85L11.86 6.85L0 13.7L-11.86 6.85L-11.86 -6.85Z" fill="#fff"/><path d="M0 0L0 -13.7L-11.86 -6.85L-11.86 0Z" fill="#000"/><path d="M0 0L0 13.7L11.86 6.85L11.86 0Z" fill="#000"/><path d="M-11.86 0H11.86M0 -13.7V13.7" stroke="#000" stroke-width="2.8" fill="none"/><path d="M0 -13.7L11.86 -6.85L11.86 6.85L0 13.7L-11.86 6.85L-11.86 -6.85Z" fill="none" stroke="#000" stroke-width="4" stroke-linejoin="round"/></g>
<g transform="translate(753.14 1897) scale(1 1.035)"><path d="M0 -13.7L11.86 -6.85L11.86 6.85L0 13.7L-11.86 6.85L-11.86 -6.85Z" fill="#fff"/><path d="M0 0L0 -13.7L-11.86 -6.85L-11.86 0Z" fill="#000"/><path d="M0 0L0 13.7L11.86 6.85L11.86 0Z" fill="#000"/><path d="M-11.86 0H11.86M0 -13.7V13.7" stroke="#000" stroke-width="2.8" fill="none"/><path d="M0 -13.7L11.86 -6.85L11.86 6.85L0 13.7L-11.86 6.85L-11.86 -6.85Z" fill="none" stroke="#000" stroke-width="4" stroke-linejoin="round"/></g>
<g transform="translate(879.42 1918.3) scale(1 1.035)"><path d="M0 -13.7L11.86 -6.85L11.86 6.85L0 13.7L-11.86 6.85L-11.86 -6.85Z" fill="#fff"/><path d="M0 0L0 -13.7L-11.86 -6.85L-11.86 0Z" fill="#000"/><path d="M0 0L0 13.7L11.86 6.85L11.86 0Z" fill="#000"/><path d="M-11.86 0H11.86M0 -13.7V13.7" stroke="#000" stroke-width="2.8" fill="none"/><path d="M0 -13.7L11.86 -6.85L11.86 6.85L0 13.7L-11.86 6.85L-11.86 -6.85Z" fill="none" stroke="#000" stroke-width="4" stroke-linejoin="round"/></g>
<g transform="translate(1005.7 1941.4) scale(1 1.035)"><path d="M0 -13.7L11.86 -6.85L11.86 6.85L0 13.7L-11.86 6.85L-11.86 -6.85Z" fill="#fff"/><path d="M0 0L0 -13.7L-11.86 -6.85L-11.86 0Z" fill="#000"/><path d="M0 0L0 13.7L11.86 6.85L11.86 0Z" fill="#000"/><path d="M-11.86 0H11.86M0 -13.7V13.7" stroke="#000" stroke-width="2.8" fill="none"/><path d="M0 -13.7L11.86 -6.85L11.86 6.85L0 13.7L-11.86 6.85L-11.86 -6.85Z" fill="none" stroke="#000" stroke-width="4" stroke-linejoin="round"/></g>
<g transform="translate(1131.98 2038.5) scale(1 1.035)"><path d="M0 -13.7L11.86 -6.85L11.86 6.85L0 13.7L-11.86 6.85L-11.86 -6.85Z" fill="#fff"/><path d="M0 0L0 -13.7L-11.86 -6.85L-11.86 0Z" fill="#000"/><path d="M0 0L0 13.7L11.86 6.85L11.86 0Z" fill="#000"/><path d="M-11.86 0H11.86M0 -13.7V13.7" stroke="#000" stroke-width="2.8" fill="none"/><path d="M0 -13.7L11.86 -6.85L11.86 6.85L0 13.7L-11.86 6.85L-11.86 -6.85Z" fill="none" stroke="#000" stroke-width="4" stroke-linejoin="round"/></g>
<g transform="translate(1258.26 2114.2) scale(1 1.035)"><path d="M0 -13.7L11.86 -6.85L11.86 6.85L0 13.7L-11.86 6.85L-11.86 -6.85Z" fill="#fff"/><path d="M0 0L0 -13.7L-11.86 -6.85L-11.86 0Z" fill="#000"/><path d="M0 0L0 13.7L11.86 6.85L11.86 0Z" fill="#000"/><path d="M-11.86 0H11.86M0 -13.7V13.7" stroke="#000" stroke-width="2.8" fill="none"/><path d="M0 -13.7L11.86 -6.85L11.86 6.85L0 13.7L-11.86 6.85L-11.86 -6.85Z" fill="none" stroke="#000" stroke-width="4" stroke-linejoin="round"/></g>
<g transform="translate(1384.54 2167.2) scale(1 1.035)"><path d="M0 -13.7L11.86 -6.85L11.86 6.85L0 13.7L-11.86 6.85L-11.86 -6.85Z" fill="#fff"/><path d="M0 0L0 -13.7L-11.86 -6.85L-11.86 0Z" fill="#000"/><path d="M0 0L0 13.7L11.86 6.85L11.86 0Z" fill="#000"/><path d="M-11.86 0H11.86M0 -13.7V13.7" stroke="#000" stroke-width="2.8" fill="none"/><path d="M0 -13.7L11.86 -6.85L11.86 6.85L0 13.7L-11.86 6.85L-11.86 -6.85Z" fill="none" stroke="#000" stroke-width="4" stroke-linejoin="round"/></g>
<g transform="translate(1510.82 2108.1) scale(1 1.035)"><path d="M0 -13.7L11.86 -6.85L11.86 6.85L0 13.7L-11.86 6.85L-11.86 -6.85Z" fill="#fff"/><path d="M0 0L0 -13.7L-11.86 -6.85L-11.86 0Z" fill="#000"/><path d="M0 0L0 13.7L11.86 6.85L11.86 0Z" fill="#000"/><path d="M-11.86 0H11.86M0 -13.7V13.7" stroke="#000" stroke-width="2.8" fill="none"/><path d="M0 -13.7L11.86 -6.85L11.86 6.85L0 13.7L-11.86 6.85L-11.86 -6.85Z" fill="none" stroke="#000" stroke-width="4" stroke-linejoin="round"/></g>
<g transform="translate(1637.1 1968) scale(1 1.035)"><path d="M0 -13.7L11.86 -6.85L11.86 6.85L0 13.7L-11.86 6.85L-11.86 -6.85Z" fill="#fff"/><path d="M0 0L0 -13.7L-11.86 -6.85L-11.86 0Z" fill="#000"/><path d="M0 0L0 13.7L11.86 6.85L11.86 0Z" fill="#000"/><path d="M-11.86 0H11.86M0 -13.7V13.7" stroke="#000" stroke-width="2.8" fill="none"/><path d="M0 -13.7L11.86 -6.85L11.86 6.85L0 13.7L-11.86 6.85L-11.86 -6.85Z" fill="none" stroke="#000" stroke-width="4" stroke-linejoin="round"/></g>
<g transform="translate(1763.38 1907) scale(1 1.035)"><path d="M0 -13.7L11.86 -6.85L11.86 6.85L0 13.7L-11.86 6.85L-11.86 -6.85Z" fill="#fff"/><path d="M0 0L0 -13.7L-11.86 -6.85L-11.86 0Z" fill="#000"/><path d="M0 0L0 13.7L11.86 6.85L11.86 0Z" fill="#000"/><path d="M-11.86 0H11.86M0 -13.7V13.7" stroke="#000" stroke-width="2.8" fill="none"/><path d="M0 -13.7L11.86 -6.85L11.86 6.85L0 13.7L-11.86 6.85L-11.86 -6.85Z" fill="none" stroke="#000" stroke-width="4" stroke-linejoin="round"/></g>
<g transform="translate(374.3 1763.5) scale(1 1.035)"><path d="M-15 0L0 -14.6L15 0L0 14.6Z" fill="#fff"/><path d="M-1 -14.6L0 -14.6L15 0L0 14.6L-1 14.6Z" fill="#000"/><path d="M-15 0L0 -14.6L15 0L0 14.6Z" fill="none" stroke="#000" stroke-width="2.7" stroke-linejoin="miter"/></g>
<g transform="translate(500.58 1703.4) scale(1 1.035)"><path d="M-15 0L0 -14.6L15 0L0 14.6Z" fill="#fff"/><path d="M-1 -14.6L0 -14.6L15 0L0 14.6L-1 14.6Z" fill="#000"/><path d="M-15 0L0 -14.6L15 0L0 14.6Z" fill="none" stroke="#000" stroke-width="2.7" stroke-linejoin="miter"/></g>
<g transform="translate(626.86 1674.2) scale(1 1.035)"><path d="M-15 0L0 -14.6L15 0L0 14.6Z" fill="#fff"/><path d="M-1 -14.6L0 -14.6L15 0L0 14.6L-1 14.6Z" fill="#000"/><path d="M-15 0L0 -14.6L15 0L0 14.6Z" fill="none" stroke="#000" stroke-width="2.7" stroke-linejoin="miter"/></g>
<g transform="translate(753.14 1722.9) scale(1 1.035)"><path d="M-15 0L0 -14.6L15 0L0 14.6Z" fill="#fff"/><path d="M-1 -14.6L0 -14.6L15 0L0 14.6L-1 14.6Z" fill="#000"/><path d="M-15 0L0 -14.6L15 0L0 14.6Z" fill="none" stroke="#000" stroke-width="2.7" stroke-linejoin="miter"/></g>
<g transform="translate(879.42 1736.7) scale(1 1.035)"><path d="M-15 0L0 -14.6L15 0L0 14.6Z" fill="#fff"/><path d="M-1 -14.6L0 -14.6L15 0L0 14.6L-1 14.6Z" fill="#000"/><path d="M-15 0L0 -14.6L15 0L0 14.6Z" fill="none" stroke="#000" stroke-width="2.7" stroke-linejoin="miter"/></g>
<g transform="translate(1005.7 1752.1) scale(1 1.035)"><path d="M-15 0L0 -14.6L15 0L0 14.6Z" fill="#fff"/><path d="M-1 -14.6L0 -14.6L15 0L0 14.6L-1 14.6Z" fill="#000"/><path d="M-15 0L0 -14.6L15 0L0 14.6Z" fill="none" stroke="#000" stroke-width="2.7" stroke-linejoin="miter"/></g>
<g transform="translate(1131.98 1835.3) scale(1 1.035)"><path d="M-15 0L0 -14.6L15 0L0 14.6Z" fill="#fff"/><path d="M-1 -14.6L0 -14.6L15 0L0 14.6L-1 14.6Z" fill="#000"/><path d="M-15 0L0 -14.6L15 0L0 14.6Z" fill="none" stroke="#000" stroke-width="2.7" stroke-linejoin="miter"/></g>
<g transform="translate(1258.26 1869.1) scale(1 1.035)"><path d="M-15 0L0 -14.6L15 0L0 14.6Z" fill="#fff"/><path d="M-1 -14.6L0 -14.6L15 0L0 14.6L-1 14.6Z" fill="#000"/><path d="M-15 0L0 -14.6L15 0L0 14.6Z" fill="none" stroke="#000" stroke-width="2.7" stroke-linejoin="miter"/></g>
<g transform="translate(1384.54 1914.3) scale(1 1.035)"><path d="M-15 0L0 -14.6L15 0L0 14.6Z" fill="#fff"/><path d="M-1 -14.6L0 -14.6L15 0L0 14.6L-1 14.6Z" fill="#000"/><path d="M-15 0L0 -14.6L15 0L0 14.6Z" fill="none" stroke="#000" stroke-width="2.7" stroke-linejoin="miter"/></g>
<g transform="translate(1510.82 1850.4) scale(1 1.035)"><path d="M-15 0L0 -14.6L15 0L0 14.6Z" fill="#fff"/><path d="M-1 -14.6L0 -14.6L15 0L0 14.6L-1 14.6Z" fill="#000"/><path d="M-15 0L0 -14.6L15 0L0 14.6Z" fill="none" stroke="#000" stroke-width="2.7" stroke-linejoin="miter"/></g>
<g transform="translate(1637.1 1703.4) scale(1 1.035)"><path d="M-15 0L0 -14.6L15 0L0 14.6Z" fill="#fff"/><path d="M-1 -14.6L0 -14.6L15 0L0 14.6L-1 14.6Z" fill="#000"/><path d="M-15 0L0 -14.6L15 0L0 14.6Z" fill="none" stroke="#000" stroke-width="2.7" stroke-linejoin="miter"/></g>
<g transform="translate(1763.38 1669.6) scale(1 1.035)"><path d="M-15 0L0 -14.6L15 0L0 14.6Z" fill="#fff"/><path d="M-1 -14.6L0 -14.6L15 0L0 14.6L-1 14.6Z" fill="#000"/><path d="M-15 0L0 -14.6L15 0L0 14.6Z" fill="none" stroke="#000" stroke-width="2.7" stroke-linejoin="miter"/></g>
<g font-size="51.35" fill="#111" text-anchor="end">
<text transform="translate(388.3 2436) scale(1 1.05) rotate(-30)">Nov</text>
<text transform="translate(514.58 2436) scale(1 1.05) rotate(-30)">Dec</text>
<text transform="translate(640.86 2436) scale(1 1.05) rotate(-30)">Jan</text>
<text transform="translate(767.14 2436) scale(1 1.05) rotate(-30)">Feb</text>
<text transform="translate(893.42 2436) scale(1 1.05) rotate(-30)">Mar</text>
<text transform="translate(1019.7 2436) scale(1 1.05) rotate(-30)">Apr</text>
<text transform="translate(1145.98 2436) scale(1 1.05) rotate(-30)">May</text>
<text transform="translate(1272.26 2436) scale(1 1.05) rotate(-30)">Jun</text>
<text transform="translate(1398.54 2436) scale(1 1.05) rotate(-30)">Jul</text>
<text transform="translate(1524.82 2436) scale(1 1.05) rotate(-30)">Aug</text>
<text transform="translate(1651.1 2436) scale(1 1.05) rotate(-30)">Sep</text>
<text transform="translate(1777.38 2436) scale(1 1.05) rotate(-30)">Oct</text>
</g>
<text transform="translate(73.6 1895) rotate(-90) scale(1.055 1)" font-size="58.48" font-weight="bold" fill="#000" xml:space="preserve">Rainfall precipitation (mm) and  air relative huminity (%)</text>
<text transform="translate(2060.5 1427.3) rotate(-90) scale(1.055 1)" font-size="58.25" font-weight="bold" fill="#000" xml:space="preserve">Temperature (ºC)</text>
<rect x="455.3" y="2531.5" width="116.5" height="32.5" fill="#5e5f61" stroke="#1c1c1c" stroke-width="2.6"/>
<rect x="1118.3" y="2531.5" width="116.5" height="32.5" fill="#bebfc1" stroke="#1c1c1c" stroke-width="2.6"/>
<g font-size="51.35" fill="#111">
<text transform="translate(601 2565) scale(1 1.055)">Rainfall precipitacion</text>
<text transform="translate(1265.5 2565.5) scale(1 1.055)">Air relative humidity</text>
<text transform="translate(371.5 2645) scale(1 1.055)">Max. temperature</text>
<text transform="translate(949.5 2651) scale(1 1.055)">Min. temperature</text>
<text transform="translate(1504 2646.5) scale(1 1.055)">Average temperature</text>
</g>
<path d="M226.2 2628h0.01M243.7 2628h0.01M261.4 2628h0.01M307.8 2628h0.01M324.9 2628h0.01M341.8 2628h0.01" stroke="#000" stroke-width="5.8" stroke-linecap="round" fill="none"/>
<g transform="translate(284.7 2628) scale(1 1.035)"><circle cx="0" cy="0" r="12.9" fill="#fff"/><path d="M-2 -12.74A12.9 12.9 0 1 1 -2 12.74Z" fill="#000"/><circle cx="0" cy="0" r="12.9" fill="none" stroke="#000" stroke-width="3"/></g>
<path d="M795.3 2632.5H908" stroke="#111" stroke-width="2.6" stroke-dasharray="31 9.9" fill="none"/>
<g transform="translate(857.5 2632.5) scale(1 1.035)"><path d="M0 -13.7L11.86 -6.85L11.86 6.85L0 13.7L-11.86 6.85L-11.86 -6.85Z" fill="#fff"/><path d="M0 0L0 -13.7L-11.86 -6.85L-11.86 0Z" fill="#000"/><path d="M0 0L0 13.7L11.86 6.85L11.86 0Z" fill="#000"/><path d="M-11.86 0H11.86M0 -13.7V13.7" stroke="#000" stroke-width="2.8" fill="none"/><path d="M0 -13.7L11.86 -6.85L11.86 6.85L0 13.7L-11.86 6.85L-11.86 -6.85Z" fill="none" stroke="#000" stroke-width="4" stroke-linejoin="round"/></g>
<path d="M1357 2629.5H1473.5" stroke="#111" stroke-width="2.6" fill="none"/>
<g transform="translate(1415.2 2629.5) scale(1 1.035)"><path d="M-15 0L0 -14.6L15 0L0 14.6Z" fill="#fff"/><path d="M-1 -14.6L0 -14.6L15 0L0 14.6L-1 14.6Z" fill="#000"/><path d="M-15 0L0 -14.6L15 0L0 14.6Z" fill="none" stroke="#000" stroke-width="2.7" stroke-linejoin="miter"/></g>
</svg>
</body></html>
